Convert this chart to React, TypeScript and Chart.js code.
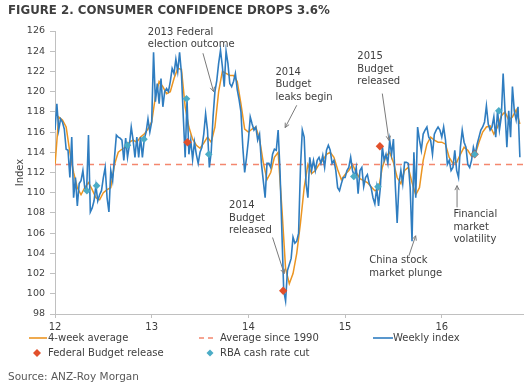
import React, { useEffect, useRef } from "react";
import { Chart, registerables } from "chart.js";

Chart.register(...registerables);

// ---------------- DATA ----------------
const WEEKS_PER_YEAR = 52;
const FIRST_YEAR = 12;

const WEEKLY_2012 = [116.2, 118.8, 116.2, 117.3, 117.0, 116.3, 114.3, 114.2, 111.5, 115.5, 109.5, 111.5, 108.7, 110.9, 111.2, 112.2, 110.5, 110.2, 115.7, 108.1, 108.5, 109.2, 110.7, 109.2, 109.8, 110.2, 111.5, 112.5, 109.5, 108.1, 112.2, 111.2, 113.5, 115.7, 115.5, 115.4, 115.2, 113.2, 115.4, 113.5, 114.7, 116.5, 115.2, 113.5, 115.5, 113.5, 115.5, 113.5, 115.3, 116.0, 117.3, 116.0];
const WEEKLY_2013 = [117.0, 123.9, 119.0, 120.8, 118.8, 121.3, 118.5, 120.0, 120.3, 120.0, 121.0, 122.3, 121.8, 123.2, 122.0, 123.9, 121.8, 117.5, 113.5, 119.2, 113.8, 115.2, 113.3, 115.0, 113.8, 112.9, 114.0, 114.5, 115.8, 117.8, 116.2, 112.5, 114.0, 117.5, 120.0, 121.1, 122.8, 124.1, 122.5, 120.5, 124.0, 122.8, 120.8, 120.5, 121.0, 121.8, 120.2, 119.2, 118.0, 114.5, 112.0, 113.5];
const WEEKLY_2014 = [115.2, 117.5, 116.8, 116.2, 116.5, 115.2, 115.8, 112.9, 111.2, 109.5, 112.9, 112.9, 112.5, 113.8, 114.3, 114.2, 116.2, 112.2, 106.2, 100.3, 99.3, 102.3, 102.9, 103.5, 105.6, 105.0, 105.2, 106.0, 112.5, 116.2, 115.5, 110.9, 109.5, 113.5, 112.2, 113.2, 112.2, 113.2, 113.5, 112.9, 113.7, 112.5, 114.2, 114.7, 114.2, 112.9, 113.2, 112.2, 110.5, 110.2, 110.9, 111.5];
const WEEKLY_2015 = [111.5, 112.2, 112.5, 113.5, 112.2, 111.6, 112.5, 109.9, 112.2, 112.5, 110.6, 111.5, 111.8, 110.9, 110.5, 109.5, 108.9, 110.5, 108.7, 110.6, 114.6, 113.2, 113.8, 112.9, 115.2, 113.8, 115.3, 110.8, 107.0, 110.9, 112.2, 110.9, 113.0, 113.0, 112.9, 110.5, 105.2, 114.0, 109.5, 116.5, 115.2, 114.2, 115.8, 116.2, 116.5, 115.5, 115.2, 113.8, 115.8, 116.2, 116.5, 116.2];
const WEEKLY_2016 = [115.5, 116.5, 115.2, 112.8, 113.2, 112.2, 112.5, 114.2, 112.2, 111.5, 114.5, 116.2, 115.0, 114.5, 112.8, 112.5, 113.2, 114.5, 113.8, 114.8, 115.5, 116.2, 116.5, 117.0, 118.6, 116.8, 116.2, 116.5, 117.5, 115.5, 118.1, 116.2, 117.5, 121.8, 118.1, 114.5, 118.1, 115.5, 120.5, 118.1, 117.2, 118.5, 113.5];
const WEEKLY_INDEX = [...WEEKLY_2012, ...WEEKLY_2013, ...WEEKLY_2014, ...WEEKLY_2015, ...WEEKLY_2016];

// 4-week average, read every second week
const AVG4_STEP_WEEKS = 2;
const AVG4_2012 = [112.7, 117.5, 117.2, 116.5, 114.0, 112.0, 110.5, 109.8, 110.5, 111.0, 110.3, 109.5, 109.3, 110.0, 110.3, 110.5, 112.8, 114.0, 114.3, 114.5, 115.0, 115.2, 115.0, 115.5, 115.8, 116.3];
const AVG4_2013 = [117.0, 119.5, 121.0, 120.5, 119.8, 120.0, 121.3, 122.3, 122.2, 118.5, 116.5, 115.3, 114.7, 114.4, 114.9, 115.5, 115.0, 116.5, 120.0, 122.0, 121.8, 121.6, 121.6, 121.0, 118.8, 116.3];
const AVG4_2014 = [116.0, 116.3, 116.5, 115.3, 113.0, 111.3, 112.0, 113.5, 114.0, 108.5, 102.5, 101.0, 102.0, 104.0, 107.0, 110.5, 112.8, 111.9, 112.2, 112.8, 113.2, 113.8, 114.0, 113.5, 112.3, 111.3];
const AVG4_2015 = [111.8, 112.2, 112.8, 112.0, 111.4, 111.2, 111.0, 110.6, 110.2, 110.3, 112.5, 113.6, 114.0, 113.0, 111.5, 110.9, 112.2, 112.5, 111.0, 109.8, 110.5, 113.2, 114.8, 115.5, 115.2, 115.0];
const AVG4_2016 = [115.0, 114.8, 113.5, 112.9, 113.0, 113.8, 114.5, 114.2, 113.6, 113.8, 115.0, 116.0, 116.5, 116.6, 115.8, 116.5, 117.6, 118.0, 117.2, 117.5, 118.2, 116.8];
const AVG4 = [...AVG4_2012, ...AVG4_2013, ...AVG4_2014, ...AVG4_2015, ...AVG4_2016];

const AVERAGE_SINCE_1990 = 112.8;

const BUDGET_DATES = [13.37, 14.36, 15.36, 16.34];
const BUDGET_VALUES = [115.0, 100.3, 114.6, 113.8];

const RBA_DATES = [12.33, 12.43, 12.75, 12.92, 13.36, 13.59, 15.09, 15.34, 16.34, 16.59];
const RBA_VALUES = [110.2, 110.7, 114.7, 115.3, 119.3, 113.8, 111.6, 110.6, 113.8, 118.1];

const X_MIN = 12;
const X_MAX = 16.84;
const X_TICKS = [12, 13, 14, 15, 16];
const Y_MIN = 98;
const Y_MAX = 126;
const Y_STEP = 2;

// annotation labels (data coordinates)
const NOTES = [
  { lines: ["2013 Federal", "election outcome"], tx: 12.96, ty: 125.9, from: [13.53, 123.8], to: [13.64, 120.0] },
  { lines: ["2014", "Budget", "leaks begin"], tx: 14.28, ty: 121.9, from: [14.50, 118.65], to: [14.38, 116.44] },
  { lines: ["2015", "Budget", "released"], tx: 15.127, ty: 123.45, from: [15.385, 119.81], to: [15.454, 115.17] },
  { lines: ["2014", "Budget", "released"], tx: 13.80, ty: 108.72, from: [14.25, 105.57], to: [14.37, 102.0] },
  { lines: ["China stock", "market plunge"], tx: 15.25, ty: 103.26, from: [15.66, 103.76], to: [15.73, 105.74] },
  { lines: ["Financial", "market", "volatility"], tx: 16.12, ty: 107.83, from: [16.158, 108.55], to: [16.158, 110.7] },
];

// ---------------- STYLE ----------------
const FONT = '"DejaVu Sans", Verdana, sans-serif';
const C_BLUE = "#2f7dc0";
const C_ORANGE = "#eb9522";
const C_AVG = "#f4876e";
const C_RED = "#e2502b";
const C_CYAN = "#4bacc6";
const C_TEXT = "#404040";
const C_AXIS = "#c0c0c0";

const notesPlugin = {
  id: "notes",
  afterDatasetsDraw(chart: any) {
    const { ctx, scales } = chart;
    const xs = scales.x;
    const ys = scales.y;
    ctx.save();
    ctx.font = `10px ${FONT}`;
    ctx.fillStyle = C_TEXT;
    ctx.textBaseline = "middle";
    ctx.textAlign = "left";
    for (const n of NOTES) {
      const px = xs.getPixelForValue(n.tx);
      const py = ys.getPixelForValue(n.ty);
      n.lines.forEach((l, i) => ctx.fillText(l, px, py + i * 12.4));
      const x1 = xs.getPixelForValue(n.from[0]);
      const y1 = ys.getPixelForValue(n.from[1]);
      const x2 = xs.getPixelForValue(n.to[0]);
      const y2 = ys.getPixelForValue(n.to[1]);
      ctx.strokeStyle = "#7a7a7a";
      ctx.lineWidth = 1;
      ctx.beginPath();
      ctx.moveTo(x1, y1);
      ctx.lineTo(x2, y2);
      const ang = Math.atan2(y2 - y1, x2 - x1);
      const hl = 5;
      ctx.moveTo(x2, y2);
      ctx.lineTo(x2 - hl * Math.cos(ang - 0.45), y2 - hl * Math.sin(ang - 0.45));
      ctx.moveTo(x2, y2);
      ctx.lineTo(x2 - hl * Math.cos(ang + 0.45), y2 - hl * Math.sin(ang + 0.45));
      ctx.stroke();
    }
    ctx.restore();
  },
};

export default function App() {
  const ref = useRef<HTMLCanvasElement | null>(null);

  useEffect(() => {
    if (!ref.current) return;
    const weekly = WEEKLY_INDEX.map((v, i) => ({ x: FIRST_YEAR + i / WEEKS_PER_YEAR, y: v }));
    const avg = AVG4.map((v, i) => ({ x: FIRST_YEAR + (i * AVG4_STEP_WEEKS) / WEEKS_PER_YEAR, y: v }));
    const longRun = [
      { x: X_MIN, y: AVERAGE_SINCE_1990 },
      { x: X_MAX, y: AVERAGE_SINCE_1990 },
    ];
    const budget = BUDGET_DATES.map((d, i) => ({ x: d, y: BUDGET_VALUES[i] }));
    const rba = RBA_DATES.map((d, i) => ({ x: d, y: RBA_VALUES[i] }));

    const chart = new Chart(ref.current, {
      type: "line",
      data: {
        datasets: [
          {
            label: "4-week average",
            data: avg,
            borderColor: C_ORANGE,
            borderWidth: 1.5,
            pointRadius: 0,
            tension: 0,
            order: 4,
          },
          {
            label: "Average since 1990",
            data: longRun,
            borderColor: C_AVG,
            borderWidth: 1.5,
            borderDash: [6, 5],
            pointRadius: 0,
            order: 3,
          },
          {
            label: "Weekly index",
            data: weekly,
            borderColor: C_BLUE,
            borderWidth: 1.6,
            pointRadius: 0,
            tension: 0,
            order: 2,
          },
          {
            label: "Federal Budget release",
            data: budget,
            showLine: false,
            pointStyle: "rectRot",
            pointRadius: 4.2,
            pointBackgroundColor: C_RED,
            pointBorderColor: C_RED,
            pointBorderWidth: 0,
            order: 1,
          },
          {
            label: "RBA cash rate cut",
            data: rba,
            showLine: false,
            pointStyle: "rectRot",
            pointRadius: 3.8,
            pointBackgroundColor: C_CYAN,
            pointBorderColor: C_CYAN,
            pointBorderWidth: 0,
            order: 0,
          },
        ],
      },
      options: {
        responsive: false,
        animation: false,
        devicePixelRatio: 1,
        layout: { padding: { left: 0, right: 6, top: 31, bottom: 54 } },
        plugins: {
          legend: { display: false },
          tooltip: { enabled: false },
          title: { display: false },
        },
        scales: {
          x: {
            type: "linear",
            min: X_MIN,
            max: X_MAX,
            afterFit: (s: any) => {
              s.height = 22;
            },
            afterBuildTicks: (s: any) => {
              s.ticks = X_TICKS.map((v) => ({ value: v }));
            },
            ticks: {
              color: C_TEXT,
              font: { family: FONT, size: 10 },
              padding: 3,
              maxRotation: 0,
              autoSkip: false,
              callback: (v: any) => String(v),
            },
            grid: {
              drawOnChartArea: false,
              drawTicks: true,
              tickLength: 4,
              color: C_AXIS,
            },
            border: { display: true, color: C_AXIS, width: 1 },
          },
          y: {
            min: Y_MIN,
            max: Y_MAX,
            afterFit: (s: any) => {
              s.width = 55;
            },
            ticks: {
              stepSize: Y_STEP,
              color: C_TEXT,
              font: { family: FONT, size: 9.5 },
              padding: 5,
            },
            grid: {
              drawOnChartArea: false,
              drawTicks: true,
              tickLength: 5,
              color: C_AXIS,
            },
            border: { display: true, color: C_AXIS, width: 1 },
            title: {
              display: true,
              text: "Index",
              color: C_TEXT,
              font: { family: FONT, size: 10 },
              padding: { top: 14, bottom: 0 },
            },
          },
        },
      },
      plugins: [notesPlugin],
    });
    return () => chart.destroy();
  }, []);

  const txt: React.CSSProperties = {
    position: "absolute",
    fontFamily: FONT,
    fontSize: 10,
    lineHeight: "12px",
    color: C_TEXT,
    whiteSpace: "nowrap",
  };

  return (
    <div style={{ position: "fixed", left: 0, top: 0, width: 529, height: 390, background: "#fff", overflow: "hidden" }}>
      <canvas ref={ref} width={529} height={390} style={{ position: "absolute", left: 0, top: 0, width: 529, height: 390 }} />
      <div
        style={{
          position: "absolute",
          left: 8,
          top: 3,
          fontFamily: FONT,
          fontWeight: "bold",
          fontSize: 11.8,
          lineHeight: "14px",
          color: "#3f3f3f",
          whiteSpace: "nowrap",
        }}
      >
        FIGURE 2. CONSUMER CONFIDENCE DROPS 3.6%
      </div>
      <svg width={529} height={390} style={{ position: "absolute", left: 0, top: 0, pointerEvents: "none" }}>
        <line x1={29} y1={338} x2={47} y2={338} stroke={C_ORANGE} strokeWidth={1.6} />
        <line x1={199} y1={338} x2={216} y2={338} stroke={C_AVG} strokeWidth={1.6} strokeDasharray="5 4" />
        <line x1={373} y1={338} x2={393} y2={338} stroke={C_BLUE} strokeWidth={1.6} />
        <polygon points="37,349 41,353 37,357 33,353" fill={C_RED} />
        <polygon points="210,349.5 213.5,353 210,356.5 206.5,353" fill={C_CYAN} />
      </svg>
      <div style={{ ...txt, left: 48, top: 332 }}>4-week average</div>
      <div style={{ ...txt, left: 220, top: 332 }}>Average since 1990</div>
      <div style={{ ...txt, left: 393, top: 332 }}>Weekly index</div>
      <div style={{ ...txt, left: 48, top: 347 }}>Federal Budget release</div>
      <div style={{ ...txt, left: 220, top: 347 }}>RBA cash rate cut</div>
      <div style={{ ...txt, left: 8, top: 370, fontSize: 10.5, lineHeight: "13px", color: "#595959" }}>
        Source: ANZ-Roy Morgan
      </div>
    </div>
  );
}
